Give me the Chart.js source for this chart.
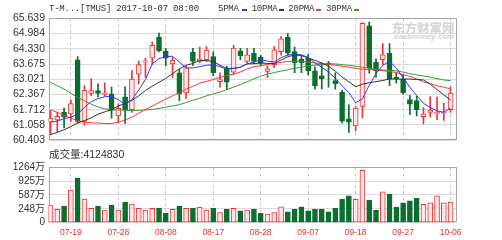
<!DOCTYPE html>
<html>
<head>
<meta charset="utf-8">
<script src="https://cdn.jsdelivr.net/npm/chart.js@4/dist/chart.umd.min.js"></script>
<style>
body{margin:0;background:#fff;width:502px;height:240px;overflow:hidden;position:relative;font-family:"Liberation Sans","Noto Sans CJK SC",sans-serif}
canvas{position:absolute;left:0}
#k{top:0}
#v{top:150px}
.t{position:absolute;white-space:nowrap;color:#333}
.mono{font-family:"Liberation Mono",monospace;font-size:9px;letter-spacing:-0.23px;line-height:10px}
.dash{position:absolute;width:5px;height:2px}
.wm{position:absolute;color:#d4d4d4;font-weight:bold;white-space:nowrap;z-index:0}
</style>
</head>
<body>
<div class="wm" style="left:392px;top:18px;font-size:12.5px;font-family:'Noto Sans CJK SC'">东方财富网</div>
<div class="wm" style="left:394px;top:32px;font-size:8px;font-style:italic">eastmoney.com</div>
<canvas id="k" width="502" height="150"></canvas>
<canvas id="v" width="502" height="90"></canvas>
<div class="t mono" style="left:49px;top:3.5px">T-M...[TMUS] 2017-10-07 08:00</div>
<div id="legend"></div>
<div class="t" id="volText" style="left:49px;top:147.5px;font-size:10.5px;line-height:13px"></div>
<script>
// trading days shown
const days = ['07-14','07-17','07-18','07-19','07-20','07-21','07-24','07-25','07-26','07-27',
  '07-28','07-31','08-01','08-02','08-03','08-04','08-07','08-08','08-09','08-10',
  '08-11','08-14','08-15','08-16','08-17','08-18','08-21','08-22','08-23','08-24',
  '08-25','08-28','08-29','08-30','08-31','09-01','09-05','09-06','09-07','09-08',
  '09-11','09-12','09-13','09-14','09-15','09-18','09-19','09-20','09-21','09-22',
  '09-25','09-26','09-27','09-28','09-29','10-02','10-03','10-04','10-05','10-06'];
const labelDays = ['07-19','07-28','08-08','08-17','08-28','09-07','09-18','09-27','10-06'];

const open  = [61.18,61.27,61.60,61.53,63.86,61.22,62.41,62.53,62.37,62.39,
  61.45,62.27,61.71,63.24,63.75,63.93,64.83,64.22,63.68,63.30,
  62.43,64.18,63.79,63.86,64.00,62.92,63.45,63.32,64.24,63.79,
  64.14,63.97,63.36,63.65,64.21,64.83,64.21,63.88,63.93,63.38,
  63.17,63.72,62.96,62.47,61.32,61.02,61.85,65.32,63.75,63.86,
  64.14,63.10,63.03,62.15,62.10,61.41,61.60,61.55,61.56,61.71];
const high  = [61.68,61.60,61.78,62.13,64.00,62.75,63.05,62.82,62.87,62.68,
  61.95,62.70,63.39,63.80,63.93,64.63,65.00,64.35,63.96,63.45,
  63.60,64.35,64.40,64.42,64.20,63.30,63.58,64.48,64.35,64.35,
  64.35,64.05,63.60,64.42,64.85,64.98,64.40,64.05,64.10,63.55,
  63.72,63.79,63.30,62.54,61.92,61.85,65.46,65.48,63.90,64.55,
  64.55,63.30,63.23,62.33,62.30,61.80,62.28,62.26,62.00,62.68];
const low   = [60.64,60.76,60.93,61.22,61.15,61.05,62.31,62.26,62.30,61.35,
  61.15,61.12,61.60,62.82,63.10,63.65,64.20,63.60,63.10,62.10,
  62.20,63.60,63.72,63.79,63.17,62.68,62.57,63.23,63.86,63.72,
  63.70,63.60,63.10,63.52,64.05,64.05,63.30,63.30,63.20,62.60,
  62.61,62.68,62.60,61.15,60.74,60.80,61.36,63.28,63.10,63.65,
  62.75,62.85,62.37,61.50,61.45,61.10,61.40,61.28,61.25,61.60];
const close = [61.35,61.43,61.39,61.98,61.21,62.55,62.53,62.41,62.44,61.68,
  61.77,61.71,63.03,63.65,63.81,64.48,64.25,63.93,63.83,62.40,
  63.51,63.79,63.90,64.27,63.30,63.00,62.90,64.36,64.02,64.07,
  63.79,63.70,63.47,64.28,64.76,64.14,63.72,63.72,63.38,62.75,
  63.03,63.65,62.82,61.22,61.18,61.78,65.42,63.51,63.38,64.07,
  63.03,63.03,62.43,61.95,61.71,61.54,61.70,61.60,61.62,62.43];

const ma5  = [61.18,61.22,61.33,61.39,61.52,61.81,62.06,62.19,62.27,62.29,
  62.14,61.95,62.14,62.56,63.01,63.68,63.91,63.99,64.01,63.76,
  63.51,63.51,63.56,63.62,63.64,63.56,63.45,63.48,63.54,63.68,
  63.76,63.86,63.80,63.76,63.95,64.06,64.10,64.07,63.96,63.72,
  63.54,63.33,63.06,62.74,62.45,62.02,62.18,62.76,63.26,63.62,
  63.79,63.51,63.08,62.68,62.32,61.99,61.80,61.66,61.60,61.79];
const ma10 = [60.64,60.74,60.85,60.99,61.14,61.24,61.37,61.52,61.62,61.72,
  61.87,61.99,62.11,62.31,62.54,62.72,62.89,63.06,63.26,63.47,
  63.62,63.70,63.83,63.82,63.79,63.62,63.49,63.49,63.54,63.68,
  63.69,63.72,63.70,63.70,63.85,63.99,64.06,64.04,63.93,63.83,
  63.72,63.58,63.37,63.12,62.91,62.70,62.81,62.87,62.92,62.97,
  63.03,63.03,63.03,63.03,63.01,62.99,62.81,62.58,62.35,62.13];
const ma20 = [61.70,61.60,61.47,61.35,61.24,61.18,61.15,61.14,61.12,61.12,
  61.18,61.27,61.39,61.56,61.72,61.87,62.02,62.16,62.31,62.43,
  62.60,62.72,62.85,62.93,63.01,63.10,63.18,63.24,63.33,63.47,
  63.56,63.60,63.66,63.70,63.74,63.79,63.79,63.79,63.76,63.72,
  63.69,63.66,63.62,63.58,63.54,63.49,63.45,63.44,63.42,63.39,
  63.35,63.31,63.22,63.14,63.04,62.91,62.83,62.74,62.68,62.61];
const ma30 = [62.89,62.74,62.60,62.41,62.24,62.10,61.95,61.83,61.75,61.72,
  61.70,61.69,61.68,61.68,61.70,61.72,61.77,61.82,61.87,61.93,
  62.02,62.12,62.20,62.31,62.39,62.47,62.58,62.68,62.79,62.91,
  63.04,63.15,63.24,63.31,63.37,63.43,63.49,63.54,63.60,63.63,
  63.65,63.68,63.68,63.65,63.62,63.58,63.54,63.49,63.45,63.42,
  63.40,63.38,63.33,63.26,63.21,63.16,63.11,63.05,62.99,62.96];

// volume in 万 shares
const vol = [342,237,317,709,1000,489,261,317,220,342,
  220,408,366,261,220,261,261,139,237,317,
  261,261,286,220,261,154,237,261,202,220,
  237,139,122,154,300,178,237,300,202,237,
  237,178,261,481,569,481,1190,464,220,667,
  611,293,398,447,506,359,398,569,398,412.483];

const priceLabels = ['60.403','61.058','61.712','62.367','63.021','63.675','64.330','64.984','65.639'];
const volTicks = [-90.67,248,587,925.33,1264];
const volLabels = ['0','248万','587万','925万','1264万'];

const RED = '#f03434', GREEN = '#0a6e2e', HOLLOW = '#fde6e6';
const xMin = -0.3, xMax = 59.8;

Chart.defaults.font.family = '"Liberation Sans","Noto Sans CJK SC",sans-serif';
Chart.defaults.animation = false;

const priceTicks = priceLabels.map(Number);
const dateIdx = labelDays.map(d => days.indexOf(d));
const idx = days.map((d, i) => i);
const up = close.map((c, i) => c >= open[i]);
const pts = arr => arr.map((v, i) => ({x: i, y: v}));

// box round the plot area
const frame = {
  id: 'frame',
  beforeDatasetsDraw(chart) {
    const {ctx, chartArea: a} = chart;
    ctx.save();
    ctx.strokeStyle = '#a4a4a4';
    ctx.lineWidth = 1;
    ctx.strokeRect(Math.round(a.left) + 0.5, Math.round(a.top) + 0.5,
      Math.round(a.right - a.left) - 1, Math.round(a.bottom - a.top) - 1);
    ctx.restore();
  }
};

const xScale = (labels) => ({
  type: 'linear', min: xMin, max: xMax, offset: false,
  afterBuildTicks: s => { s.ticks = dateIdx.map(v => ({value: v})); },
  afterFit: s => { s.height = labels ? 17.3 : 0; },
  ticks: {
    display: labels, autoSkip: false, maxRotation: 0, padding: 4.5,
    color: '#e8302c', font: {size: 8.5},
    callback: v => labelDays[dateIdx.indexOf(v)]
  },
  grid: {color: '#c6c6c6', drawTicks: false, offset: false},
  border: {display: false, dash: [3, 3]}
});

const yScale = (tickVals, labels, size) => ({
  min: tickVals[0], max: tickVals[tickVals.length - 1],
  afterBuildTicks: s => { s.ticks = tickVals.map(v => ({value: v})); },
  afterFit: s => { s.width = 48.5; },
  ticks: {padding: 3.5, color: '#333', autoSkip: false, font: {size}, callback: (v, i) => labels[i]},
  grid: {color: '#dadada', drawTicks: false},
  border: {display: false}
});

const lineSet = (label, data, color) => ({
  type: 'line', label, data: pts(data), borderColor: color, borderWidth: 1,
  pointRadius: 0, tension: 0, order: 0
});

new Chart(document.getElementById('k'), {
  type: 'bar',
  data: {datasets: [
    lineSet('5PMA', ma5, '#3535ff'),
    lineSet('10PMA', ma10, '#333333'),
    lineSet('20PMA', ma20, '#ff3535'),
    lineSet('30PMA', ma30, '#3a9a3a'),
    {
      label: 'body', data: idx.map(i => ({x: i, y: [open[i], close[i]]})),
      backgroundColor: up.map(u => u ? HOLLOW : GREEN),
      borderColor: up.map(u => u ? RED : GREEN),
      borderWidth: 1, borderSkipped: false, barThickness: 5, minBarLength: 1,
      grouped: false, order: 1
    },
    {
      label: 'wick', data: idx.map(i => ({x: i, y: [low[i], high[i]]})),
      backgroundColor: up.map(u => u ? RED : GREEN),
      barThickness: 1, grouped: false, order: 2
    }
  ]},
  options: {
    responsive: false,
    layout: {padding: {top: 18.3, right: 46, bottom: 5.5, left: 0}},
    plugins: {legend: {display: false}, tooltip: {enabled: false}},
    scales: {x: xScale(false), y: yScale(priceTicks, priceLabels, 10.5)}
  },
  plugins: [frame]
});

new Chart(document.getElementById('v'), {
  type: 'bar',
  data: {datasets: [{
    label: 'vol', data: pts(vol), base: volTicks[0],
    backgroundColor: up.map(u => u ? HOLLOW : GREEN),
    borderColor: up.map(u => u ? RED : GREEN),
    borderWidth: 1, borderSkipped: false, barThickness: 5, grouped: false
  }]},
  options: {
    responsive: false,
    layout: {padding: {top: 17.3, right: 46, bottom: 0, left: 0}},
    plugins: {legend: {display: false}, tooltip: {enabled: false}},
    scales: {x: xScale(true), y: yScale(volTicks, volLabels, 10)}
  },
  plugins: [frame]
});

// legend row and volume caption
const legendItems = [['5PMA', '#3535ff', 218, 241.5], ['10PMA', '#333333', 251.7, 278.5],
  ['20PMA', '#ff3535', 288.3, 316], ['30PMA', '#3a9a3a', 326, 353.5]];
let html = '';
legendItems.forEach(([name, color, tx, dx]) => {
  html += `<div class="t mono" style="left:${tx}px;top:3.5px">${name}</div>`;
  html += `<div class="dash" style="left:${dx}px;top:9px;background:${color}"></div>`;
});
document.getElementById('legend').innerHTML = html;
document.getElementById('volText').textContent = '成交量:' + Math.round(vol[vol.length - 1] * 10000);
</script>
</body>
</html>
